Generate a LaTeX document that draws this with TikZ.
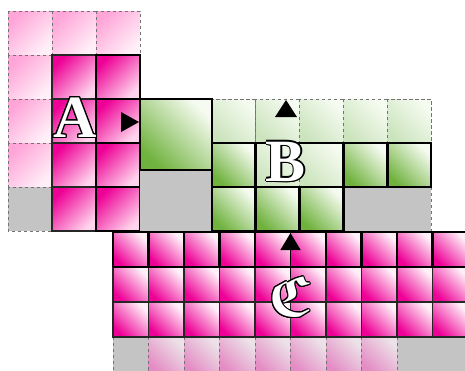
\documentclass[tikz,border=0pt]{standalone}
\usepackage{fontspec}
\usepackage{contour}
\usetikzlibrary{arrows.meta}
\newfontfamily\labelfont{Liberation Serif}
\newfontfamily\frakfont{DejaVu Sans}
\contourlength{0.8pt}
\definecolor{hotpink}{RGB}{238,0,150}
\definecolor{blushpink}{RGB}{255,212,236}
\definecolor{softpink}{RGB}{255,165,216}
\definecolor{whitepink}{RGB}{255,240,248}
\definecolor{ghostpink}{RGB}{228,140,196}
\definecolor{ghostwhite}{RGB}{236,226,232}
\definecolor{leaf}{RGB}{112,178,62}
\definecolor{leafpale}{RGB}{245,251,240}
\definecolor{mintpale}{RGB}{204,228,190}
\definecolor{cellgray}{RGB}{196,196,196}

\begin{document}
\begin{tikzpicture}[x=0.75pt, y=-0.75pt,
    pinkdeep/.style={shading=axis, top color=hotpink, bottom color=blushpink, shading angle=45},
    pinklight/.style={shading=axis, top color=softpink, bottom color=whitepink, shading angle=45},
    pinkflip/.style={shading=axis, top color=whitepink, bottom color=hotpink, shading angle=-45},
    pinkghost/.style={shading=axis, top color=ghostwhite, bottom color=ghostpink, shading angle=-45},
    greendeep/.style={shading=axis, top color=leafpale, bottom color=leaf, shading angle=-45},
    greenlight/.style={shading=axis, top color=leafpale, bottom color=mintpale, shading angle=-45},
    grey/.style={fill=cellgray},
    dashcell/.style={draw=black!55, dash pattern=on 2.5pt off 2pt, line width=0.75pt},
    thincell/.style={draw=black!85, line width=1.1pt},
    thickcell/.style={draw=black, line width=2.2pt},
    letter/.style={font=\labelfont\bfseries\fontsize{45}{45}\selectfont, text=white, inner sep=0pt},
    tri/.style={-{Triangle[length=12.75pt, width=15pt]}, line width=1pt}
]
\useasboundingbox (0,0) rectangle (465,371);
\clip (0,0) rectangle (465,371);

% block A
\foreach \i in {0,1,2} \shade[pinklight, dashcell] ({8+44*\i},11) rectangle +(44,44);
\foreach \j in {1,2,3} \shade[pinklight, dashcell] (8,{11+44*\j}) rectangle +(44,44);
\filldraw[grey, dashcell] (8,187) rectangle (52,231);
\foreach \j in {1,...,4} {
    \shade[pinkdeep, thincell] (52,{11+44*\j}) rectangle +(44,44);
    \shade[pinkdeep, thickcell] (96,{11+44*\j}) rectangle +(44,44);
}

% block B
\foreach \i in {0,...,4} \shade[greenlight, dashcell] ({212+43.8*\i},99) rectangle +(43.8,44);
\foreach \i in {1,2} \shade[greenlight, dashcell] ({212+43.8*\i},143) rectangle +(43.8,44);
\fill[grey] (140,170) rectangle (212,231);
\fill[grey] (343.4,187) rectangle (431,231);
\draw[dashcell] (431,187) -- (431,231);
\shade[greendeep, thickcell] (140,99) rectangle (212,170);
\foreach \i in {0,3,4} \shade[greendeep, thickcell] ({212+43.8*\i},143) rectangle +(43.8,44);
\foreach \i in {0,1,2} \shade[greendeep, thickcell] ({212+43.8*\i},187) rectangle +(43.8,44);
\draw[line width=2.2pt] (212,143) -- (431,143);

% block C
\filldraw[grey, dashcell] (113,337) rectangle +(35.5,36);
\foreach \i in {1,...,7} \shade[pinkghost, dashcell] ({113+35.5*\i},337) rectangle +(35.5,36);
\filldraw[grey, dashcell] (397,337) rectangle (470,373);
\foreach \j in {1,2} \foreach \i in {0,...,9}
    \shade[pinkflip, thincell] ({113+35.5*\i},{232+35*\j}) rectangle +(35.5,35);
\foreach \i in {0,...,9} \shade[pinkflip] ({113+35.5*\i},232) rectangle +(35.5,35);
\draw[line width=2.2pt] (113,232) -- (470,232) (113,267) -- (470,267);
\foreach \i in {0,1,2,3,4,6,7,8,9} \draw[line width=2.2pt] ({113+35.5*\i},232) -- +(0,35);

% labels
\node[letter] (A) at (75,118) {\contour{black}{A}};
\node[letter] (B) at (286,162) {\contour{black}{B}};
\node[letter, font=\frakfont\bfseries\fontsize{40}{40}\selectfont] (C) at (291,298) {\contour{black}{ℭ}};

% pointers
\fill (121,112) -- (139,122) -- (121,132) -- cycle;
\fill (275,117) -- (286,100) -- (297,117) -- cycle;
\coordinate (ctip) at (290.5,233);
\draw[tri] (C.north -| ctip) -- (ctip);
\end{tikzpicture}
\end{document}
